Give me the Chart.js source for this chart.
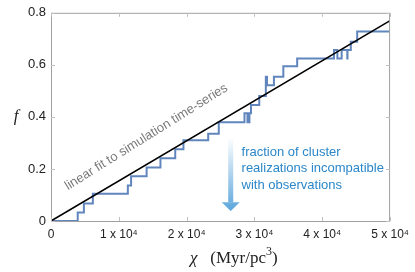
<!DOCTYPE html>
<html>
<head>
<meta charset="utf-8">
<script src="https://cdn.jsdelivr.net/npm/chart.js@4"></script>
<style>
  html, body { margin: 0; padding: 0; background: #fff; }
  #wrap { width: 415px; height: 272px; }
</style>
</head>
<body>
<div id="wrap"><canvas id="chart"></canvas></div>
<script>
// simulation time-series: chi where f jumps, and the new value of f
const chiSteps = [0, 3940, 4850, 6170, 11330, 11810, 14100, 16140, 18320, 19530,
                  23180, 24740, 28530, 28970, 29260, 29490, 30710, 31680, 31850, 32870,
                  34260, 36300, 41730, 42230, 42860, 43690, 43720, 44210, 45150, 50000];
const fSteps = [0, 0.033, 0.067, 0.105, 0.136, 0.172, 0.206, 0.241, 0.276, 0.310,
                0.335, 0.379, 0.414, 0.379, 0.414, 0.446, 0.480, 0.554, 0.522, 0.554,
                0.595, 0.624, 0.657, 0.624, 0.657, 0.624, 0.657, 0.689, 0.728, 0.728];

// linear fit
const fitChi = [0, 50000];
const fitF = [0, 0.77];

// axis ticks
const xTicks = [0, 10000, 20000, 30000, 40000, 50000];
const yTicks = [0, 0.2, 0.4, 0.6, 0.8];

const SANS = '"Liberation Sans", Helvetica, Arial, sans-serif';
const SERIF = '"Liberation Serif", "Times New Roman", serif';

const frameAndNotes = {
    id: 'frameAndNotes',
    beforeDatasetsDraw(chart) {
        const { ctx, scales: { x, y } } = chart;
        ctx.save();

        // arrow with fading shaft
        const ax = x.getPixelForValue(26500);
        const top = y.getPixelForValue(0.32);
        const headBase = y.getPixelForValue(0.072);
        const tip = y.getPixelForValue(0.038);
        const grad = ctx.createLinearGradient(0, top, 0, tip);
        grad.addColorStop(0, 'rgba(90,165,220,0)');
        grad.addColorStop(1, 'rgba(90,165,220,1)');
        ctx.fillStyle = grad;
        ctx.fillRect(ax - 2.5, top, 5, headBase - top);
        ctx.beginPath();
        ctx.moveTo(ax - 9, headBase);
        ctx.lineTo(ax + 9, headBase);
        ctx.lineTo(ax, tip);
        ctx.closePath();
        ctx.fill();

        // blue note
        ctx.fillStyle = '#2b87c9';
        ctx.font = '13px ' + SANS;
        ctx.textAlign = 'left';
        ctx.textBaseline = 'middle';
        const tx = x.getPixelForValue(28100);
        const lines = ['fraction of cluster', 'realizations incompatible', 'with observations'];
        lines.forEach((s, i) => ctx.fillText(s, tx, y.getPixelForValue(0.265) + i * 16.7));

        // grey note along the fit
        ctx.fillStyle = '#7a7a7a';
        ctx.translate(x.getPixelForValue(2500), y.getPixelForValue(0.118));
        ctx.rotate(-32 * Math.PI / 180);
        ctx.textBaseline = 'alphabetic';
        ctx.fillText('linear fit to simulation time-series', 0, 0);
        ctx.restore();
    },
    afterDraw(chart) {
        const { ctx, chartArea: a, scales: { x, y } } = chart;
        ctx.save();
        ctx.strokeStyle = '#a0a0a0';
        ctx.lineWidth = 1;
        ctx.strokeRect(a.left + 0.5, a.top + 0.5, a.right - a.left - 1, a.bottom - a.top);

        ctx.strokeStyle = '#c0c0c0';
        ctx.beginPath();
        xTicks.forEach(v => {
            const px = Math.round(x.getPixelForValue(v)) + 0.5;
            ctx.moveTo(px, a.bottom); ctx.lineTo(px, a.bottom - 4);
            ctx.moveTo(px, a.top); ctx.lineTo(px, a.top + 4);
        });
        yTicks.forEach(v => {
            const py = Math.round(y.getPixelForValue(v)) + 0.5;
            ctx.moveTo(a.left, py); ctx.lineTo(a.left + 4, py);
            ctx.moveTo(a.right, py); ctx.lineTo(a.right - 4, py);
        });
        ctx.stroke();

        // axis titles
        ctx.fillStyle = '#222';
        ctx.textBaseline = 'alphabetic';
        ctx.textAlign = 'left';
        const base = 263;
        ctx.font = 'italic 17px ' + SERIF;
        const chiW = ctx.measureText('\u03c7').width;
        ctx.font = '17px ' + SERIF;
        const w1 = ctx.measureText('   (Myr/pc').width;
        ctx.font = '12px ' + SERIF;
        const w3 = ctx.measureText('3').width;
        let cx = 190;
        ctx.font = 'italic 17px ' + SERIF;
        ctx.fillText('\u03c7', cx, base); cx += chiW;
        ctx.font = '17px ' + SERIF;
        ctx.fillText('   (Myr/pc', cx, base); cx += w1;
        ctx.font = '12px ' + SERIF;
        ctx.fillText('3', cx, base - 8); cx += w3;
        ctx.font = '17px ' + SERIF;
        ctx.fillText(')', cx, base);

        ctx.font = 'italic 17px ' + SERIF;
        ctx.textAlign = 'center';
        ctx.textBaseline = 'middle';
        ctx.fillText('f', 16, y.getPixelForValue(0.4));
        ctx.restore();
    }
};

new Chart(document.getElementById('chart'), {
    type: 'line',
    data: {
        datasets: [
            {
                label: 'linear fit',
                data: fitChi.map((c, i) => ({ x: c, y: fitF[i] })),
                borderColor: '#000',
                borderWidth: 1.6,
                pointRadius: 0,
                order: 0
            },
            {
                label: 'simulation',
                data: chiSteps.map((c, i) => ({ x: c, y: fSteps[i] })),
                borderColor: '#6185bd',
                borderWidth: 2,
                stepped: true,
                pointRadius: 0,
                order: 1
            }
        ]
    },
    options: {
        responsive: true,
        maintainAspectRatio: false,
        animation: false,
        layout: { padding: { top: 10, right: 21, left: 0, bottom: 0 } },
        plugins: {
            legend: { display: false },
            tooltip: { enabled: false }
        },
        scales: {
            x: {
                type: 'linear',
                min: 0,
                max: 50000,
                afterFit: s => { s.height = 51; },
                afterBuildTicks: s => { s.ticks = xTicks.map(v => ({ value: v })); },
                grid: { display: false, drawTicks: false },
                border: { display: false },
                ticks: {
                    padding: 6,
                    maxRotation: 0,
                    color: '#222',
                    font: { family: SANS, size: 12 },
                    callback: v => v === 0 ? '0' : (v / 10000) + ' x 10\u2074'
                }
            },
            y: {
                type: 'linear',
                min: 0,
                max: 0.8,
                afterFit: s => { s.width = 51; },
                afterBuildTicks: s => { s.ticks = yTicks.map(v => ({ value: v })); },
                grid: { display: false, drawTicks: false },
                border: { display: false },
                ticks: {
                    padding: 5,
                    color: '#222',
                    font: { family: SANS, size: 13 },
                    callback: v => v === 0 ? '0' : v.toFixed(1)
                }
            }
        }
    },
    plugins: [frameAndNotes]
});
</script>
</body>
</html>
